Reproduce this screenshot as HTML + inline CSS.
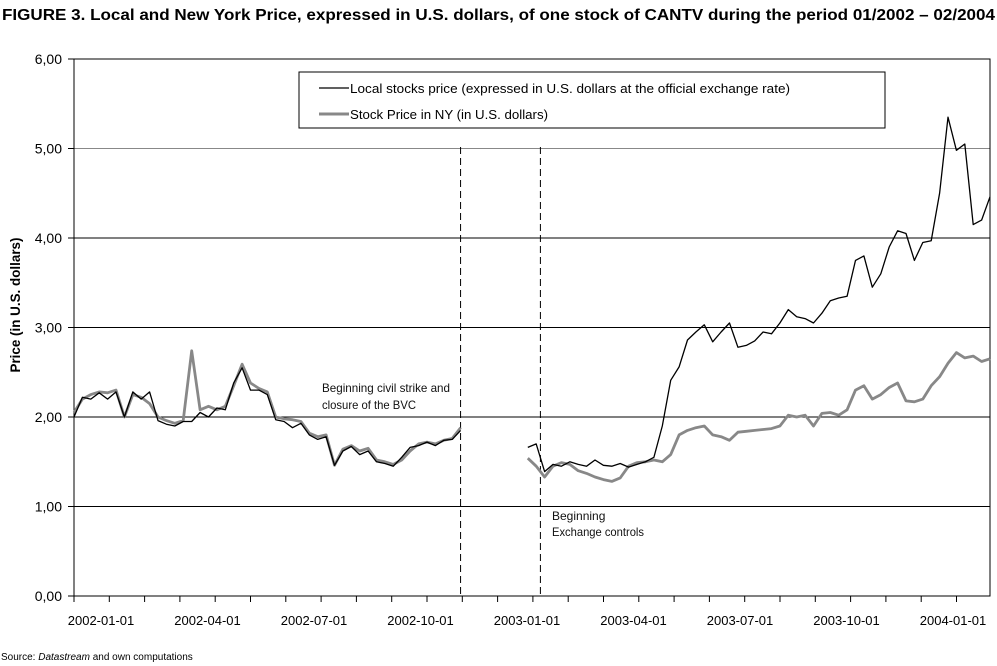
<!DOCTYPE html>
<html><head><meta charset="utf-8"><style>
body{margin:0;background:#fff;}
svg{display:block;font-family:"Liberation Sans",sans-serif;}
</style></head><body>
<svg id="chart" width="997" height="666" viewBox="0 0 997 666">
<text x="2" y="20" font-size="16" font-weight="bold" textLength="993" lengthAdjust="spacingAndGlyphs">FIGURE 3. Local and New York Price, expressed in U.S. dollars, of one stock of CANTV during the period 01/2002 – 02/2004</text>
<g id="grid"></g>
<g id="axes"></g>
<g id="series"></g>
<text transform="translate(20,305) rotate(-90)" text-anchor="middle" font-size="14" font-weight="bold" textLength="135" lengthAdjust="spacingAndGlyphs">Price (in U.S. dollars)</text>
<rect x="299" y="72" width="586" height="56" fill="#fff" stroke="#000" stroke-width="1"/>
<line x1="319" y1="88" x2="349" y2="88" stroke="#000" stroke-width="1.3"/>
<text x="350" y="93" font-size="13" textLength="440" lengthAdjust="spacingAndGlyphs">Local stocks price (expressed in U.S. dollars at the official exchange rate)</text>
<line x1="319" y1="114" x2="349" y2="114" stroke="#888" stroke-width="3"/>
<text x="350" y="119" font-size="13" textLength="198" lengthAdjust="spacingAndGlyphs">Stock Price in NY (in U.S. dollars)</text>
<text font-size="12" fill="#111"><tspan x="322" y="392" textLength="128" lengthAdjust="spacingAndGlyphs">Beginning civil strike and</tspan><tspan x="322" y="409" textLength="94" lengthAdjust="spacingAndGlyphs">closure of the BVC</tspan></text>
<text font-size="12" fill="#111"><tspan x="552" y="520">Beginning</tspan><tspan x="552" y="536" textLength="92" lengthAdjust="spacingAndGlyphs">Exchange controls</tspan></text>
<text x="1" y="660" font-size="10">Source: <tspan font-style="italic">Datastream</tspan> and own computations</text>
</svg>
<script>
const yTicks=[0,1,2,3,4,5,6];
const yTickLabels=["0,00","1,00","2,00","3,00","4,00","5,00","6,00"];
const xLabels=["2002-01-01","2002-04-01","2002-07-01","2002-10-01","2003-01-01","2003-04-01","2003-07-01","2003-10-01","2004-01-01"];
const eventWeeks=[46,55.5];
const localPrice=[2.0,2.22,2.2,2.27,2.2,2.28,2.0,2.28,2.2,2.28,1.96,1.92,1.9,1.95,1.95,2.05,2.0,2.1,2.08,2.38,2.55,2.3,2.3,2.25,1.97,1.95,1.88,1.93,1.8,1.75,1.78,1.46,1.62,1.67,1.58,1.62,1.5,1.48,1.45,1.55,1.66,1.68,1.72,1.68,1.74,1.75,1.85,
null,null,null,null,null,null,null,
1.66,1.7,1.39,1.47,1.45,1.5,1.47,1.45,1.52,1.46,1.45,1.48,1.44,1.47,1.5,1.55,1.9,2.41,2.56,2.86,2.95,3.03,2.84,2.95,3.05,2.78,2.8,2.85,2.95,2.93,3.05,3.2,3.12,3.1,3.05,3.16,3.3,3.33,3.35,3.75,3.8,3.45,3.6,3.9,4.08,4.05,3.75,3.95,3.97,4.5,5.35,4.98,5.05,4.15,4.2,4.46];
const nyPrice=[2.05,2.2,2.25,2.28,2.27,2.3,2.0,2.25,2.22,2.15,2.0,1.96,1.93,1.96,2.74,2.08,2.12,2.08,2.12,2.35,2.59,2.38,2.32,2.28,2.0,1.98,1.97,1.95,1.82,1.78,1.8,1.46,1.64,1.68,1.62,1.65,1.52,1.5,1.47,1.52,1.62,1.7,1.72,1.7,1.74,1.76,1.88,
null,null,null,null,null,null,null,
1.54,1.45,1.33,1.45,1.49,1.47,1.4,1.37,1.33,1.3,1.28,1.32,1.45,1.49,1.5,1.52,1.5,1.58,1.8,1.85,1.88,1.9,1.8,1.78,1.74,1.83,1.84,1.85,1.86,1.87,1.9,2.02,2.0,2.02,1.9,2.04,2.05,2.02,2.08,2.3,2.35,2.2,2.25,2.33,2.38,2.18,2.17,2.2,2.35,2.45,2.6,2.72,2.66,2.68,2.62,2.65];

const NS="http://www.w3.org/2000/svg";
const L=74,R=990,T=59,B=596;
function yScale(v){return B-(B-T)*v/6;}
function xScale(i){return L+(R-L)*i/109;}
function mk(tag,attrs,parent){const e=document.createElementNS(NS,tag);for(const k in attrs)e.setAttribute(k,attrs[k]);parent.appendChild(e);return e;}
const grid=document.getElementById('grid'),axes=document.getElementById('axes'),ser=document.getElementById('series');
yTicks.forEach((v,k)=>{
  if(v>0&&v<6){
    const g=mk('line',{x1:L,x2:R,y1:yScale(v),y2:yScale(v),stroke:v===5?'#888':'#000','stroke-width':1},grid);
    
    
  }
  const tk=mk('line',{x1:L-6,x2:L,y1:yScale(v),y2:yScale(v),stroke:'#000'},axes);
  
  
  const t=mk('text',{x:L-12,y:yScale(v)+5,'text-anchor':'end','font-size':14},axes);
  t.textContent=yTickLabels[k];
  
  
});
const frame=mk('rect',{x:L,y:T,width:R-L,height:B-T,fill:'none',stroke:'#000','stroke-width':1},axes);


for(let m=0;m<26;m++){
  const x=74+35.3*m;
  const tk=mk('line',{x1:x,x2:x,y1:B,y2:B+6,stroke:'#000'},axes);
  
  
}
xLabels.forEach((s,k)=>{
  const t=mk('text',{x:101+106.5*k,y:625,'text-anchor':'middle','font-size':13},axes);
  t.textContent=s;
  
  
});
eventWeeks.forEach((w,k)=>{
  const x=xScale(w);
  const d=mk('line',{x1:x,x2:x,y1:147,y2:B,stroke:'#000','stroke-dasharray':'7,4','stroke-width':1},grid);
  
  
});
function pathFor(arr){let d='',pen=false;arr.forEach((v,i)=>{if(v===null){pen=false;return;}d+=(pen?'L':'M')+xScale(i).toFixed(1)+','+yScale(v).toFixed(1);pen=true;});return d;}
const ny=mk('path',{d:pathFor(nyPrice),fill:'none',stroke:'#888','stroke-width':2.8,'stroke-linejoin':'round'},ser);


const loc=mk('path',{d:pathFor(localPrice),fill:'none',stroke:'#000','stroke-width':1.3,'stroke-linejoin':'round'},ser);


</script>
</body></html>
